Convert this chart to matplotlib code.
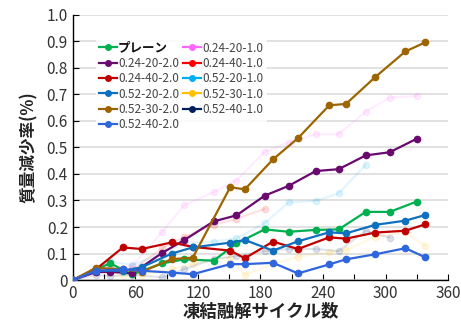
import numpy as np
import matplotlib
matplotlib.use("Agg")
import matplotlib.pyplot as plt
from matplotlib.lines import Line2D
from matplotlib.ticker import MultipleLocator, FuncFormatter

plt.rcParams['font.family'] = ['Noto Sans CJK JP', 'DejaVu Sans']

# cycle counts (two test schedules)
cycles_a = [0, 22, 36, 57, 86, 107, 135, 157, 184, 207, 233, 255, 281, 304, 330]
cycles_b = [0, 22, 48, 66, 95, 115, 151, 165, 192, 216, 246, 262, 290, 319, 338]

# mass loss rate (%), highlighted series
plain = [0, 0.04, 0.063, 0.021, 0.063, 0.078, 0.073, 0.138, 0.191, 0.182, 0.189, 0.191, 0.257, 0.257, 0.296]
s_24_20_20 = [0, 0.03, 0.031, 0.025, 0.103, 0.151, 0.221, 0.244, 0.318, 0.355, 0.411, 0.418, 0.470, 0.482, 0.533]
s_24_40_20 = [0, 0.04, 0.123, 0.117, 0.142, 0.125, 0.111, 0.082, 0.145, 0.117, 0.161, 0.156, 0.179, 0.186, 0.210]
s_52_20_20 = [0, 0.035, 0.035, 0.048, 0.100, 0.123, 0.141, 0.151, 0.111, 0.146, 0.180, 0.176, 0.208, 0.224, 0.245]
s_52_30_20 = [0, 0.046, 0.040, 0.031, 0.079, 0.084, 0.350, 0.342, 0.455, 0.535, 0.659, 0.664, 0.765, 0.862, 0.896]
s_52_40_20 = [0, 0.035, 0.040, 0.035, 0.028, 0.022, 0.060, 0.060, 0.065, 0.025, 0.059, 0.078, 0.097, 0.120, 0.086]

# faded series
s_24_20_10 = [0, 0.03, 0.04, 0.053, 0.182, 0.283, 0.331, 0.375, 0.484, 0.518, 0.550, 0.550, 0.635, 0.688, 0.694]
s_24_40_10 = [0, 0.04, 0.05, 0.04, 0.12, 0.163, 0.208, 0.231, 0.268]
s_52_20_10 = [0, 0.04, 0.07, 0.057, 0.10, 0.14, 0.145, 0.157, 0.214, 0.293, 0.298, 0.327, 0.434]
s_52_30_10 = [0, 0.03, 0.02, 0.02, 0.04, 0.06, 0.085, 0.019, 0.06, 0.088, 0.105, 0.113, 0.163, 0.180, 0.129]
s_52_40_10 = [0, 0.02, 0.015, 0.02, 0.010, 0.041, 0.08, 0.09, 0.109, 0.117, 0.117, 0.109, 0.186, 0.160]

main = [
    ("プレーン", cycles_a, plain, "#00b050"),
    ("0.24-20-2.0", cycles_a, s_24_20_20, "#6a0a6e"),
    ("0.24-40-2.0", cycles_b, s_24_40_20, "#c00000"),
    ("0.52-20-2.0", cycles_b, s_52_20_20, "#0f70c0"),
    ("0.52-30-2.0", cycles_b, s_52_30_20, "#9c6500"),
    ("0.52-40-2.0", cycles_b, s_52_40_20, "#2f66dd"),
]
faded = [
    ("0.24-20-1.0", cycles_a, s_24_20_10, "#ff66ff"),
    ("0.24-40-1.0", cycles_a, s_24_40_10, "#ff0000"),
    ("0.52-20-1.0", cycles_a, s_52_20_10, "#00b0f0"),
    ("0.52-30-1.0", cycles_b, s_52_30_10, "#ffc000"),
    ("0.52-40-1.0", cycles_a, s_52_40_10, "#002060"),
]

fig = plt.figure(figsize=(4.61, 3.23), dpi=100)
ax = fig.add_axes([0.158, 0.133, 0.814, 0.821])

for name, x, y, c in faded:
    ax.plot(x[:len(y)], y, color=c, alpha=0.12, lw=1.5, marker='o', ms=4.5, zorder=2)
for name, x, y, c in main:
    ax.plot(x[:len(y)], y, color=c, lw=1.6, marker='o', ms=4.5, zorder=3)

ax.set_xlim(0, 360)
ax.set_ylim(0, 1.0)
ax.xaxis.set_major_locator(MultipleLocator(60))
ax.xaxis.set_minor_locator(MultipleLocator(30))
ax.yaxis.set_major_locator(MultipleLocator(0.1))
ax.yaxis.set_major_formatter(FuncFormatter(lambda v, p: '0' if abs(v) < 1e-9 else f'{v:.1f}'))
ax.tick_params(axis='both', which='both', direction='in', labelsize=11, colors='#333333')
ax.tick_params(axis='x', which='major', length=4, width=0.8, color='black')
ax.tick_params(axis='x', which='minor', length=4, width=0.8, color='black')
ax.tick_params(axis='y', which='major', length=4, width=0.8, color='black')
ax.grid(axis='y', color='#d9d9d9', lw=1.1, zorder=0)
ax.set_axisbelow(True)
for side in ['top', 'right']:
    ax.spines[side].set_visible(False)
for side in ['left', 'bottom']:
    ax.spines[side].set_color('black')
    ax.spines[side].set_linewidth(1.0)

ax.set_xlabel("凍結融解サイクル数", fontsize=12.5, fontweight='bold', color='#222222', labelpad=1)
ax.set_ylabel("質量減少率(%)", fontsize=12, fontweight='bold', color='#222222', labelpad=6)

# legend in column order, drawn at full opacity
handles = []
for name, x, y, c in main + faded:
    handles.append(Line2D([0], [0], color=c, lw=1.6, marker='o', ms=4, label=name))
leg = ax.legend(handles=handles, ncol=2, loc='upper left', bbox_to_anchor=(0.045, 0.935),
                fontsize=8.5, frameon=True, facecolor='white', edgecolor='none', framealpha=0.85,
                handlelength=1.5, handletextpad=0.1, columnspacing=0.35, labelspacing=0.2,
                borderpad=0.3)
for t in leg.get_texts():
    t.set_color('#444444')
leg.get_texts()[0].set_color('#111111')
leg.get_texts()[0].set_fontweight('bold')
leg.get_texts()[0].set_fontsize(9)

fig.savefig("out.png", dpi=100)
